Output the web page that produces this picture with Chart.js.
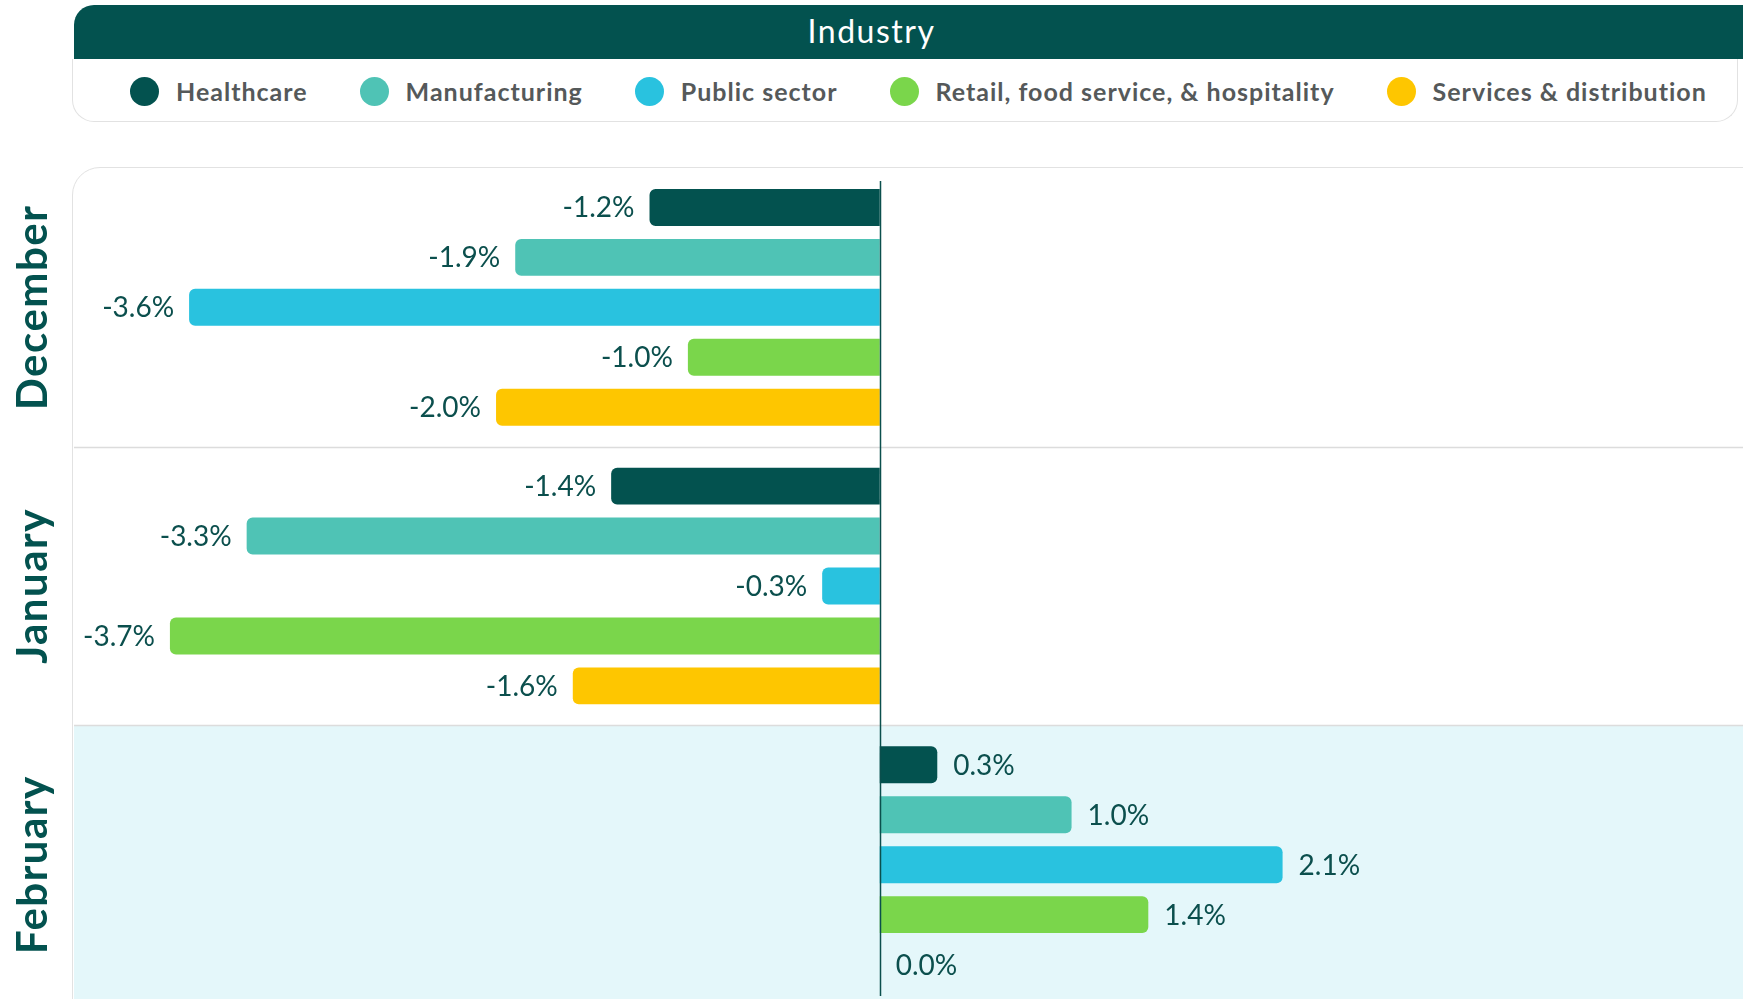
<!DOCTYPE html>
<html>
<head>
<meta charset="utf-8">
<script src="https://cdn.jsdelivr.net/npm/chart.js@4"></script>
<style>
  html, body { margin: 0; padding: 0; background: #fff; width: 1743px; height: 999px; overflow: hidden; }
  body { position: relative; font-family: "Lato", sans-serif; }
  #header {
    position: absolute; left: 74px; top: 5px; width: 1720px; height: 54px;
    background: #03524f; border-radius: 20px 20px 0 0;
  }
  #title {
    position: absolute; left: 0; top: 4px; width: 1743px; height: 54px; line-height: 54px;
    text-align: center; color: #fff; font-size: 32px; letter-spacing: 1.5px;
  }
  #legend-box {
    position: absolute; left: 72px; top: 59px; width: 1664px; height: 62px;
    border: 1.5px solid #e2e2e2; border-top: none; border-radius: 0 0 22px 22px;
  }
  #legend { position: absolute; left: 130px; top: 76px; height: 30px; display: flex; align-items: center; gap: 52px; }
  .item { display: flex; align-items: center; gap: 17px; color: #55595a; font-size: 25px; font-weight: 700; letter-spacing: 1px; white-space: nowrap; }
  .dot { width: 29px; height: 29px; border-radius: 50%; }
  #panel {
    position: absolute; left: 72px; top: 167px; width: 1720px; height: 900px;
    border: 1.5px solid #e2e2e2; border-radius: 28px; background: #fff;
  }
  #wrap { position: absolute; left: 0; top: 168px; width: 1743px; height: 836px; }
</style>
</head>
<body>
<div id="header"></div>
<div id="title">Industry</div>
<div id="legend-box"></div>
<div id="legend"></div>
<div id="panel"></div>
<div id="wrap"><canvas id="industryChart"></canvas></div>
<script>
const months = ["December", "January", "February"];
const industries = [
  "Healthcare",
  "Manufacturing",
  "Public sector",
  "Retail, food service, & hospitality",
  "Services & distribution",
];
const healthcare = [-1.2, -1.4, 0.3];
const manufacturing = [-1.9, -3.3, 1.0];
const publicSector = [-3.6, -0.3, 2.1];
const retail = [-1.0, -3.7, 1.4];
const services = [-2.0, -1.6, 0.0];
const highlightMonth = "February";

const colors = ["#03524f", "#4fc3b5", "#29c2df", "#7ad64b", "#fec600"];
const series = [healthcare, manufacturing, publicSector, retail, services];
const textColor = "#0b4f4d";

// html legend
const legend = document.getElementById("legend");
industries.forEach((name, i) => {
  const item = document.createElement("div");
  item.className = "item";
  item.innerHTML = `<span class="dot" style="background:${colors[i]}"></span><span>${name}</span>`;
  legend.appendChild(item);
});

const panelPlugin = {
  id: "panelPlugin",
  beforeDatasetsDraw(chart) {
    const { ctx, chartArea, scales } = chart;
    const y = scales.y;
    const idx = months.indexOf(highlightMonth);
    const half = (y.getPixelForValue(1) - y.getPixelForValue(0)) / 2;
    ctx.save();
    ctx.fillStyle = "#e4f7fa";
    const top = y.getPixelForValue(idx) - half;
    ctx.fillRect(chartArea.left, top, chartArea.right - chartArea.left, chartArea.bottom - top + 10);
    // dividers between months
    ctx.strokeStyle = "#dcdcdc";
    ctx.lineWidth = 1.5;
    for (let i = 1; i < months.length; i++) {
      const py = Math.round(y.getPixelForValue(i) - half) + 0.5;
      ctx.beginPath();
      ctx.moveTo(chartArea.left, py);
      ctx.lineTo(chartArea.right, py);
      ctx.stroke();
    }
    ctx.restore();
  },
  afterDatasetsDraw(chart) {
    const { ctx, chartArea, scales } = chart;
    const x0 = Math.round(scales.x.getPixelForValue(0)) + 0.5;
    ctx.save();
    // zero line
    ctx.strokeStyle = "#0b4f4d";
    ctx.lineWidth = 1.5;
    ctx.beginPath();
    ctx.moveTo(x0, chartArea.top + 13);
    ctx.lineTo(x0, chartArea.bottom - 8);
    ctx.stroke();

    // value labels
    ctx.font = "28px Lato";
    ctx.fillStyle = textColor;
    ctx.textBaseline = "middle";
    chart.data.datasets.forEach((ds, di) => {
      chart.getDatasetMeta(di).data.forEach((bar, i) => {
        const v = ds.data[i];
        const label = v.toFixed(1) + "%";
        if (v < 0) {
          ctx.textAlign = "right";
          ctx.fillText(label, bar.x - 15, bar.y + 1);
        } else {
          ctx.textAlign = "left";
          ctx.fillText(label, bar.x + 16, bar.y + 1);
        }
      });
    });

    // month labels, rotated
    ctx.font = "bold 42px Lato";
    ctx.letterSpacing = "1.5px";
    ctx.fillStyle = "#03524f";
    ctx.textAlign = "center";
    months.forEach((m, i) => {
      const py = scales.y.getPixelForValue(i);
      ctx.save();
      ctx.translate(33, py);
      ctx.rotate(-Math.PI / 2);
      ctx.fillText(m, 0, 0);
      ctx.restore();
    });
    ctx.restore();
  },
};

new Chart(document.getElementById("industryChart"), {
  type: "bar",
  data: {
    labels: months,
    datasets: industries.map((name, i) => ({
      label: name,
      data: series[i],
      backgroundColor: colors[i],
      borderRadius: 6,
      borderSkipped: "start",
      categoryPercentage: 0.896,
      barPercentage: 0.74,
    })),
  },
  options: {
    indexAxis: "y",
    responsive: true,
    maintainAspectRatio: false,
    animation: false,
    layout: { padding: { left: 74, right: 0, top: 0, bottom: 0 } },
    plugins: { legend: { display: false }, tooltip: { enabled: false } },
    scales: {
      x: { display: false, min: -4.2, max: 4.5 },
      y: { display: false },
    },
  },
  plugins: [panelPlugin],
});
</script>
</body>
</html>
